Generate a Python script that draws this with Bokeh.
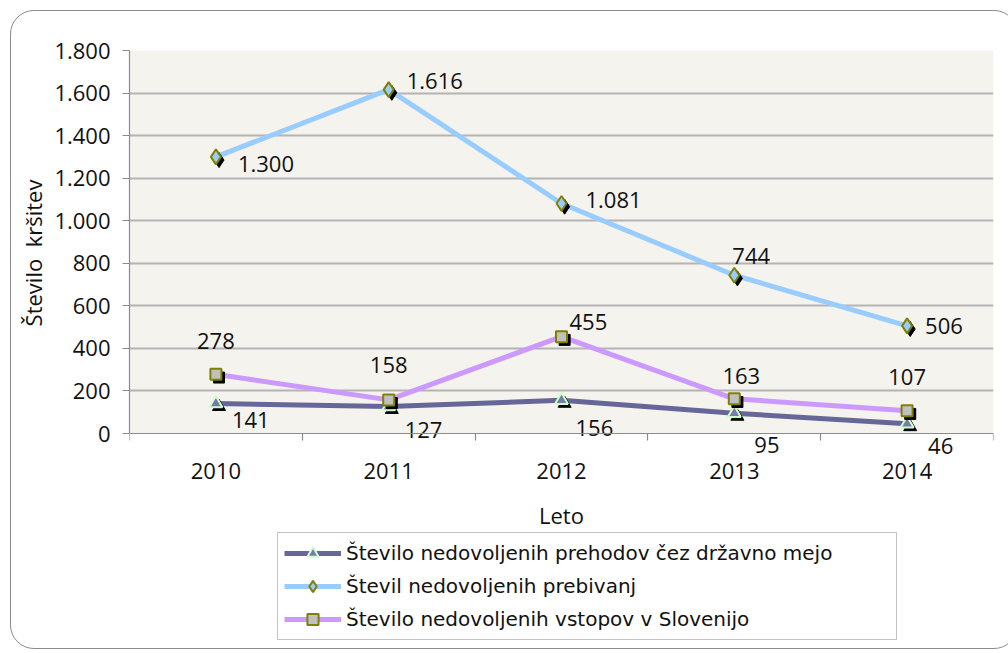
from bokeh.plotting import figure
from bokeh.layouts import column
from bokeh.models import (ColumnDataSource, FixedTicker, Legend, LegendItem,
                          BoxAnnotation, Range1d, InlineStyleSheet, LinearAxis)
from bokeh.transform import dodge
from bokeh.embed import file_html
from bokeh.resources import INLINE
from bokeh.core.properties import value

# ---------------- data ----------------
years = ["2010", "2011", "2012", "2013", "2014"]
prehodi = [141, 127, 156, 95, 46]          # Število nedovoljenih prehodov čez državno mejo
prebivanja = [1300, 1616, 1081, 744, 506]  # Število nedovoljenih prebivanj
vstopi = [278, 158, 455, 163, 107]         # Število nedovoljenih vstopov v Slovenijo
series_names = ["Število nedovoljenih prehodov čez državno mejo",
                "Števil nedovoljenih prebivanj",
                "Število nedovoljenih vstopov v Slovenijo"]
y_ticks = [0, 200, 400, 600, 800, 1000, 1200, 1400, 1600, 1800]
y_tick_labels = ["0", "200", "400", "600", "800", "1.000", "1.200", "1.400", "1.600", "1.800"]
x_title = "Leto"
y_title = "Število \u00a0kršitev"

# ---------------- layout / style ----------------
FONT = "Open Sans"
LEG_FONT = "DejaVu Sans"
FS = "22px"
xs = [i + 0.5 for i in range(len(years))]
bounds = list(range(len(years) + 1))
Y_MAX = y_ticks[-1]
PLOT_PX = 383          # pixel height of the 0..1800 band
FRAME_PX = 405         # frame extends a little below zero for the labels
Y_MIN = -Y_MAX * (FRAME_PX - PLOT_PX) / PLOT_PX

def fmt(v):
    return f"{v:,}".replace(",", ".")

# data-label offsets (pixels) and alignment per series
label_style = {
    "prehodi": dict(dx=[16, 16, 14, 20, 21], dy=[17, 24, 28, 32, 22],
                    align=["left", "left", "left", "left", "left"]),
    "prebivanja": dict(dx=[22, 18, 24, -2, 18], dy=[7, -9, -3, -19, 0],
                       align=["left", "left", "left", "left", "left"]),
    "vstopi": dict(dx=[0, 0, 8, 7, 0], dy=[-33, -35, -15, -23, -34],
                   align=["center", "center", "left", "center", "center"]),
}

p = figure(frame_width=864, frame_height=FRAME_PX, output_backend="svg",
           toolbar_location=None,
           x_range=Range1d(0, len(years)), y_range=Range1d(Y_MIN, Y_MAX),
           min_border_left=129, min_border_right=15, min_border_top=50,
           min_border_bottom=0)
p.background_fill_color = "white"
p.border_fill_color = "white"
p.outline_line_color = None

# plot-area shading (only above the zero line)
p.add_layout(BoxAnnotation(bottom=0, top=Y_MAX, fill_color="#f4f3ee", fill_alpha=1,
                           line_color=None, level="image"))

# category labels axis (at frame bottom, no line / ticks)
p.xaxis.ticker = FixedTicker(ticks=xs)
p.xaxis.major_label_overrides = {x: y for x, y in zip(xs, years)}
p.xaxis.axis_line_color = None
p.xaxis.major_tick_line_color = None
p.xaxis.minor_tick_line_color = None
p.xaxis.major_tick_out = 0
p.xaxis.major_tick_in = 0
p.xaxis.major_label_standoff = 7
p.xaxis.axis_label = x_title
p.xaxis.axis_label_standoff = 18

# zero-line axis with category boundary ticks
zaxis = LinearAxis(fixed_location=0,
                   ticker=FixedTicker(ticks=[], minor_ticks=bounds),
                   axis_line_color="#8c8c8c", axis_line_width=1.2,
                   major_tick_line_color=None, major_tick_in=0, major_tick_out=0,
                   minor_tick_line_color="#8c8c8c", minor_tick_line_width=1.2,
                   minor_tick_in=7, minor_tick_out=0, major_label_text_alpha=0)
p.add_layout(zaxis, "above")

p.yaxis.bounds = (0, Y_MAX)
p.yaxis.ticker = FixedTicker(ticks=y_ticks)
p.yaxis.major_label_overrides = {t: l for t, l in zip(y_ticks, y_tick_labels)}
p.yaxis.major_tick_out = 7
p.yaxis.major_tick_in = 0
p.yaxis.minor_tick_line_color = None
p.yaxis.major_label_standoff = 12
p.yaxis.axis_label = y_title
p.yaxis.axis_label_standoff = 3
p.yaxis.axis_line_color = "#8c8c8c"
p.yaxis.axis_line_width = 1.2
p.yaxis.major_tick_line_color = "#8c8c8c"
p.yaxis.major_tick_line_width = 1.2

for ax in (p.xaxis, p.yaxis):
    ax.major_label_text_font = FONT
    ax.major_label_text_font_size = FS
    ax.major_label_text_color = "#111111"
    ax.axis_label_text_font = FONT
    ax.axis_label_text_font_size = FS
    ax.axis_label_text_font_style = "normal"
    ax.axis_label_text_color = "#111111"

p.xgrid.grid_line_color = None
p.ygrid.ticker = FixedTicker(ticks=y_ticks[1:])
p.ygrid.grid_line_color = "#b4b4b4"
p.ygrid.grid_line_width = 2

# series
specs = [
    ("prehodi", prehodi, "#666699", "triangle", "#7a7aa8", "#ccffcc", 13),
    ("prebivanja", prebivanja, "#99ccff", "diamond", "#99ccff", "#808000", 15),
    ("vstopi", vstopi, "#cc99ff", "square", "#c0c0c0", "#808000", 11),
]

series = []
for key, vals, lcol, marker, fcol, ocol, size in specs:
    src = ColumnDataSource(dict(x=xs, y=vals))
    p.line("x", "y", source=src, line_color=lcol, line_width=5)
    series.append((src, lcol, marker, fcol, ocol, size, key, vals))

for src, lcol, marker, fcol, ocol, size, key, vals in series:
    # shadow
    p.scatter(x=dodge("x", 0.018, range=p.x_range), y=dodge("y", -15, range=p.y_range),
              source=src, marker=marker, size=size, fill_color="black",
              line_color="black")
    p.scatter("x", "y", source=src, marker=marker, size=size, fill_color=fcol,
              line_color=ocol, line_width=2)

for src, lcol, marker, fcol, ocol, size, key, vals in series:
    st = label_style[key]
    lsrc = ColumnDataSource(dict(x=xs, y=vals, t=[fmt(v) for v in vals],
                                 dx=st["dx"], dy=st["dy"], al=st["align"]))
    p.text("x", "y", text="t", source=lsrc, x_offset="dx", y_offset="dy",
           text_align="al", text_baseline="middle", text_font=value(FONT),
           text_font_size=FS, text_color="#111111")

# ---------------- legend (separate strip below the chart) ----------------
LEG_H = 118
lp = figure(width=1008, height=LEG_H, output_backend="svg", toolbar_location=None,
            x_range=Range1d(-20, -10), y_range=Range1d(-20, -10),
            x_axis_location=None, y_axis_location=None, min_border=0)
lp.grid.visible = False
lp.outline_line_color = None
lp.background_fill_color = "white"
lp.border_fill_color = None

leg_items = []
for (src, lcol, marker, fcol, ocol, size, key, vals), name in zip(series, series_names):
    lsrc = ColumnDataSource(dict(x=xs, y=vals))
    l = lp.line("x", "y", source=lsrc, line_color=lcol, line_width=5)
    m = lp.scatter("x", "y", source=lsrc, marker=marker, size=size, fill_color=fcol,
                   line_color=ocol, line_width=2)
    leg_items.append(LegendItem(label=name, renderers=[l, m]))

legend = Legend(items=leg_items, location=(148, 10), orientation="vertical",
                glyph_width=57, glyph_height=28, label_height=28, label_width=544,
                spacing=5, padding=6, label_standoff=5, margin=0,
                label_text_font=LEG_FONT, label_text_font_size="20px",
                label_text_color="#111111",
                border_line_color="#8a8a8a", border_line_width=1.5,
                background_fill_color="white", background_fill_alpha=1)
lp.add_layout(legend)

layout = column(p, lp, spacing=0)
# outer rounded frame of the chart area
layout.stylesheets = [InlineStyleSheet(css="""
:host { position: relative; overflow: hidden; }
:host::after {
  content: ""; position: absolute; left: 10px; top: 10px; z-index: 10;
  width: 1008px; height: 639px; box-sizing: border-box;
  border: 1.5px solid #8c8c8c; border-radius: 24px; pointer-events: none;
}
""")]

open("out.html", "w").write(file_html(layout, INLINE))
